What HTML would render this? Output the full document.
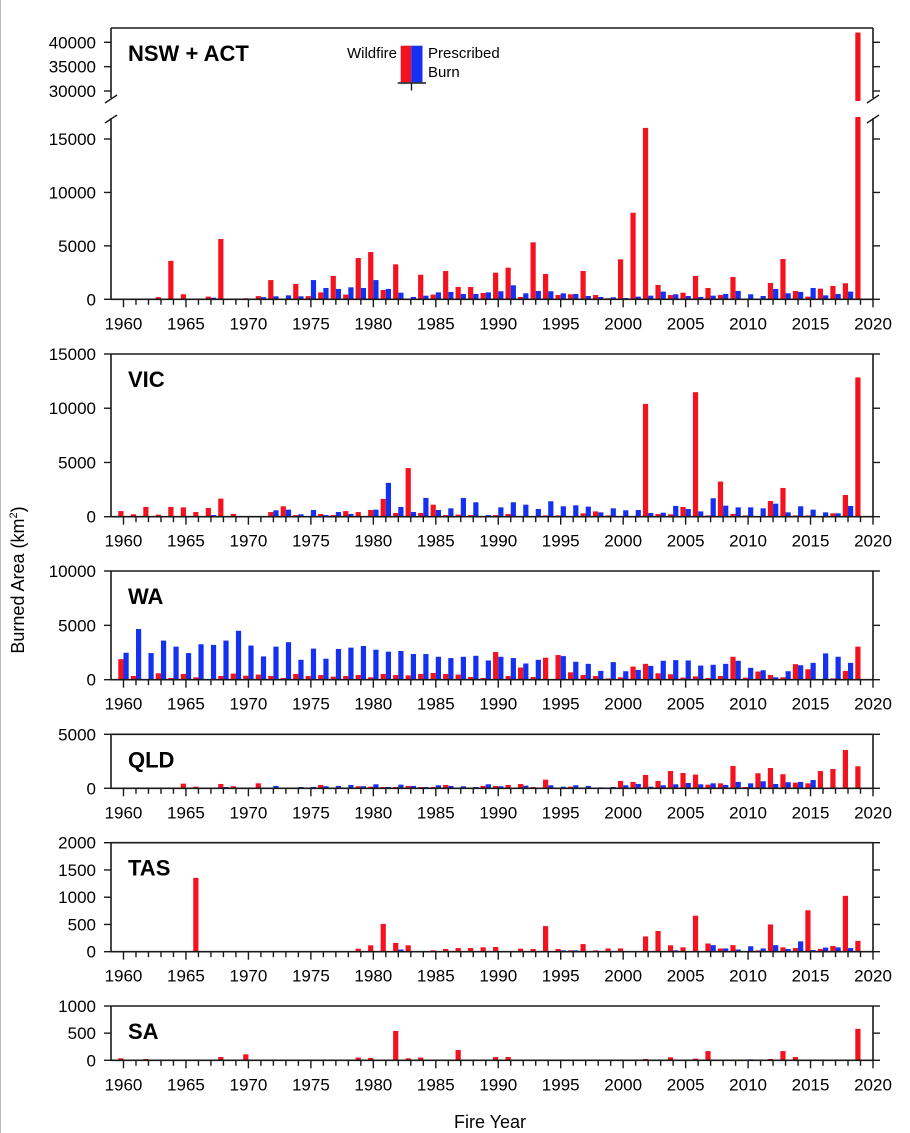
<!DOCTYPE html>
<html><head><meta charset="utf-8"><style>
html,body{margin:0;padding:0;background:#fff;}
svg{display:block;font-family:"Liberation Sans",Arial,sans-serif;}
</style></head><body>
<svg id="chart" width="910" height="1133" viewBox="0 0 910 1133" xmlns="http://www.w3.org/2000/svg">
<line x1="0.5" y1="0" x2="0.5" y2="1133" stroke="#bbb" stroke-width="1"/>
</svg>
<script>
const years = [1960,1961,1962,1963,1964,1965,1966,1967,1968,1969,1970,1971,1972,1973,1974,1975,1976,1977,1978,1979,1980,1981,1982,1983,1984,1985,1986,1987,1988,1989,1990,1991,1992,1993,1994,1995,1996,1997,1998,1999,2000,2001,2002,2003,2004,2005,2006,2007,2008,2009,2010,2011,2012,2013,2014,2015,2016,2017,2018,2019];
const xTickLabels = [1960,1965,1970,1975,1980,1985,1990,1995,2000,2005,2010,2015,2020];

const nswWild = [0,0,0,200,3600,470,50,250,5640,0, 100,300,1800,0,1430,300,650,2180,440,3860, 4420,870,3270,0,2300,440,2650,1150,1150,590, 2490,2960,220,5330,2370,400,470,2650,400,100, 3740,8100,16040,1340,400,620,2180,1060,400,2090, 0,0,1530,3770,780,250,1000,1250,1500,42000];
const nswPresc = [0,0,0,0,0,0,0,150,0,0, 0,200,280,370,280,1800,1060,970,1120,1060, 1800,970,620,220,340,650,690,500,500,650, 750,1310,560,780,750,560,500,310,220,190, 120,250,340,720,470,310,220,340,500,780, 470,310,970,560,690,1060,370,500,720,0];
const vicWild = [520,220,900,190,900,860,430,800,1670,250, 0,0,430,960,150,0,250,150,520,430, 620,1640,340,4480,340,1110,150,190,150,0, 150,250,0,0,120,120,0,310,490,120, 0,0,10400,250,220,900,11480,120,3240,250, 120,0,1450,2650,120,120,0,310,2000,12840];
const vicPresc = [0,0,0,0,0,0,0,150,0,0, 0,0,590,650,220,620,150,430,250,0, 650,3120,900,430,1730,620,770,1730,1330,150, 860,1330,1110,710,1420,960,1050,930,400,770, 590,620,340,370,990,710,490,1700,1020,860, 860,770,1200,400,960,650,400,310,990,0];
const waWild = [1890,340,0,590,160,530,220,0,340,560, 370,470,340,160,530,340,430,280,340,430, 220,530,430,400,530,620,530,470,250,160, 2550,340,1120,250,2020,2270,680,430,340,120, 220,1210,1460,590,500,190,310,160,340,2110, 190,750,430,220,1430,960,0,120,810,3040];
const waPresc = [2480,4660,2450,3600,3040,2450,3260,3200,3600,4500, 3140,2140,3040,3450,1830,2860,1930,2830,2950,3100, 2760,2580,2640,2360,2360,2110,1990,2110,2200,1770, 2110,1990,1490,1830,0,2170,1650,1460,810,1620, 780,900,1270,1740,1800,1770,1300,1370,1460,1740, 1090,870,220,780,1330,1550,2420,2110,1550,0];
const qldWild = [0,0,0,0,0,430,150,0,400,190, 0,460,0,0,0,0,310,0,0,190, 150,120,120,220,120,120,310,0,0,220, 220,310,400,120,800,0,150,0,0,0, 680,590,1230,680,1600,1420,1270,340,460,2070, 120,1390,1880,1300,520,460,1600,1790,3550,2040];
const qldPresc = [0,0,0,0,0,0,0,0,120,0, 0,0,220,0,120,120,190,220,310,190, 370,120,340,220,120,280,220,190,120,370, 190,0,250,0,280,150,280,220,90,120, 280,400,150,280,370,490,370,460,310,590, 460,650,400,560,590,770,0,0,0,0];
const tasWild = [0,0,0,0,0,0,1355,0,0,0, 0,0,0,0,0,0,0,0,0,55, 117,510,160,117,0,25,50,67,67,80, 86,0,55,50,470,50,25,140,25,60, 60,0,280,380,117,80,660,150,60,120, 0,25,500,80,67,760,50,105,1025,200];
const tasPresc = [0,0,0,0,0,0,0,0,0,0, 0,0,0,0,0,0,0,0,0,0, 0,0,40,0,0,0,0,0,0,0, 0,0,0,0,0,25,25,0,0,0, 0,0,0,0,25,0,0,120,60,40, 100,60,120,50,190,30,75,80,67,0];
const saWild = [37,0,25,0,0,0,0,0,60,0, 110,0,0,0,0,0,0,0,0,50, 43,0,540,37,50,0,0,190,0,0, 60,60,0,0,0,0,0,0,0,0, 0,0,25,0,55,0,30,170,0,0, 0,0,25,170,60,0,0,0,0,580];
const saPresc = [0,0,0,0,0,0,0,0,0,0, 0,0,0,0,0,0,0,0,0,0, 0,0,0,0,0,0,0,0,0,0, 0,0,0,0,0,0,0,0,0,0, 0,0,0,0,0,0,0,0,0,0, 18,0,0,0,0,0,0,0,0,0];

const nswTicksLow = [0,5000,10000,15000];
const nswTicksHigh = [30000,35000,40000];
const vicTicks = [0,5000,10000,15000];
const waTicks = [0,5000,10000];
const qldTicks = [0,5000];
const tasTicks = [0,500,1000,1500,2000];
const saTicks = [0,500,1000];

const NS = "http://www.w3.org/2000/svg";
const svg = document.getElementById('chart');
const X0 = 111, X1 = 873, YR0 = 1959, YR1 = 2020;
const RED = "#f5121f", BLUE = "#1430f0", AX = "#1a1a1a";
function xs(yr){ return X0 + (yr - YR0) * (X1 - X0) / (YR1 - YR0); }
function mk(tag, attrs, parent){
  const e = document.createElementNS(NS, tag);
  for (const k in attrs) e.setAttribute(k, attrs[k]);
  (parent || svg).appendChild(e);
  return e;
}
function txt(x, y, s, size, anchor, weight, parent){
  const t = mk('text', {x:x, y:y, 'font-size':size, 'text-anchor':anchor||'middle', 'font-weight':weight||'normal', fill:'#000'}, parent);
  t.textContent = s;
  return t;
}

const panels = [
  {key:'nsw', title:'NSW + ACT', top:28, base:299.3, max:15000, ticks:nswTicksLow, wild:nswWild, presc:nswPresc, broken:true},
  {key:'vic', title:'VIC', top:354, base:516.7, max:15000, ticks:vicTicks, wild:vicWild, presc:vicPresc},
  {key:'wa', title:'WA', top:571, base:679.7, max:10000, ticks:waTicks, wild:waWild, presc:waPresc},
  {key:'qld', title:'QLD', top:734.3, base:788.3, max:5000, ticks:qldTicks, wild:qldWild, presc:qldPresc},
  {key:'tas', title:'TAS', top:842.7, base:951.7, max:2000, ticks:tasTicks, wild:tasWild, presc:tasPresc},
  {key:'sa', title:'SA', top:1006, base:1060.3, max:1000, ticks:saTicks, wild:saWild, presc:saPresc}
];

// NSW broken-axis geometry
const LOW_TOP = 117, HIGH_BOT = 101, HIGH_REF = 30000, HIGH_REF_Y = 91, HIGH_PX_PER = 48.7/10000;
const LOW_PX_PER = (299.3 - 139) / 15000;

panels.forEach(function(p){
  const g = mk('g', {});
  
  
  function ys(v){
    if (p.broken) return p.base - v * LOW_PX_PER;
    return p.base - v / p.max * (p.base - p.top);
  }
  // bars
  const bw = 5.2;
  function drawBar(v, i, isWild){
    if (!v) return;
    const cx = xs(years[i]);
    const x = isWild ? cx - bw : cx;
    const col = isWild ? RED : BLUE;
    const nm = (isWild ? 'wildfire-bar-' : 'prescribed-bar-') + p.key + '-' + years[i];
    if (p.broken && v * LOW_PX_PER > p.base - LOW_TOP) {
      const r1 = mk('rect', {x:x, y:LOW_TOP, width:bw, height:p.base - LOW_TOP, fill:col}, g);
      
      
      const yTop = HIGH_REF_Y - (v - HIGH_REF) * HIGH_PX_PER;
      const r2 = mk('rect', {x:x, y:yTop, width:bw, height:Math.max(0, HIGH_BOT - yTop), fill:col}, g);
      
      
    } else {
      const y = ys(v);
      const r = mk('rect', {x:x, y:y, width:bw, height:p.base - y, fill:col}, g);
      
      
    }
  }
  years.forEach(function(yr, i){ drawBar(p.wild[i], i, true); drawBar(p.presc[i], i, false); });

  // frame
  const sw = 1.6;
  const topLine = mk('line', {x1:X0, y1:p.top, x2:X1, y2:p.top, stroke:AX, 'stroke-width':sw}, g);
  
  
  const xAxis = mk('line', {x1:X0, y1:p.base, x2:X1 + 1, y2:p.base, stroke:AX, 'stroke-width':sw}, g);
  
  
  if (p.broken) {
    [[X0],[X1]].forEach(function(a, j){
      const xx = a[0];
      const s1 = mk('line', {x1:xx, y1:p.top, x2:xx, y2:98, stroke:AX, 'stroke-width':sw}, g);
      
      
      const s2 = mk('line', {x1:xx, y1:118, x2:xx, y2:p.base, stroke:AX, 'stroke-width':sw}, g);
      
      
      const b1 = mk('line', {x1:xx - 6, y1:103, x2:xx + 6, y2:95, stroke:AX, 'stroke-width':1.4}, g);
      
      
      const b2 = mk('line', {x1:xx - 6, y1:123, x2:xx + 6, y2:115, stroke:AX, 'stroke-width':1.4}, g);
      
      
    });
    nswTicksHigh.forEach(function(v){
      const y = HIGH_REF_Y - (v - HIGH_REF) * HIGH_PX_PER;
      const tl = mk('line', {x1:X0 - 7, y1:y, x2:X0, y2:y, stroke:AX, 'stroke-width':1.4}, g);
      
      
      const tr = mk('line', {x1:X1, y1:y, x2:X1 + 7, y2:y, stroke:AX, 'stroke-width':1.4}, g);
      
      
      const lab = txt(96, y + 6, String(v), 17, 'end', 'normal', g);
      
      
    });
  } else {
    const la = mk('line', {x1:X0, y1:p.top, x2:X0, y2:p.base, stroke:AX, 'stroke-width':sw}, g);
    
    
    const ra = mk('line', {x1:X1, y1:p.top, x2:X1, y2:p.base, stroke:AX, 'stroke-width':sw}, g);
    
    
  }
  p.ticks.forEach(function(v){
    const y = ys(v);
    const tl = mk('line', {x1:X0 - 7, y1:y, x2:X0, y2:y, stroke:AX, 'stroke-width':1.4}, g);
    
    
    const tr = mk('line', {x1:X1, y1:y, x2:X1 + 7, y2:y, stroke:AX, 'stroke-width':1.4}, g);
    
    
    const lab = txt(96, y + 6, String(v), 17, 'end', 'normal', g);
    
    
  });
  // x ticks
  for (let yr = 1960; yr <= 2020; yr++) {
    const x = xs(yr);
    const major = (yr % 5 === 0);
    const t = mk('line', {x1:x, y1:p.base, x2:x, y2:p.base + (major ? 8 : 5.5), stroke:AX, 'stroke-width':1.4}, g);
    
    
  }
  xTickLabels.forEach(function(yr){
    const l = txt(xs(yr), p.base + 30, String(yr), 17, 'middle', 'normal', g);
    
    
  });
  const ttl = txt(128, p.top + 33, p.title, 22, 'start', 'bold', g);
  
  
});

// legend
const lg = mk('g', {});


const lr = mk('rect', {x:400.7, y:45.7, width:10.5, height:36.6, fill:RED}, lg);


const lb = mk('rect', {x:411.2, y:45.7, width:11.3, height:36.6, fill:BLUE}, lg);


const ll = mk('line', {x1:397.7, y1:83, x2:426, y2:83, stroke:AX, 'stroke-width':1.4}, lg);


const lt = mk('line', {x1:411.5, y1:83, x2:411.5, y2:90.5, stroke:AX, 'stroke-width':1.4}, lg);


const lw = txt(397, 58, 'Wildfire', 15, 'end', 'normal', lg);


const lp = txt(428, 58, 'Prescribed', 15, 'start', 'normal', lg);


const lp2 = txt(428, 77, 'Burn', 15, 'start', 'normal', lg);



// axis titles
const yt = mk('text', {x:0, y:0, 'font-size':18, 'text-anchor':'middle', transform:'translate(24,580) rotate(-90)', fill:'#000'});


yt.appendChild(document.createTextNode('Burned Area (km'));
const sup = mk('tspan', {'font-size':11, dy:-7}, yt);
sup.textContent = '2';
const close = mk('tspan', {dy:7}, yt);
close.textContent = ')';
const xt = txt(490, 1128, 'Fire Year', 18, 'middle', 'normal');


</script>
</body></html>
